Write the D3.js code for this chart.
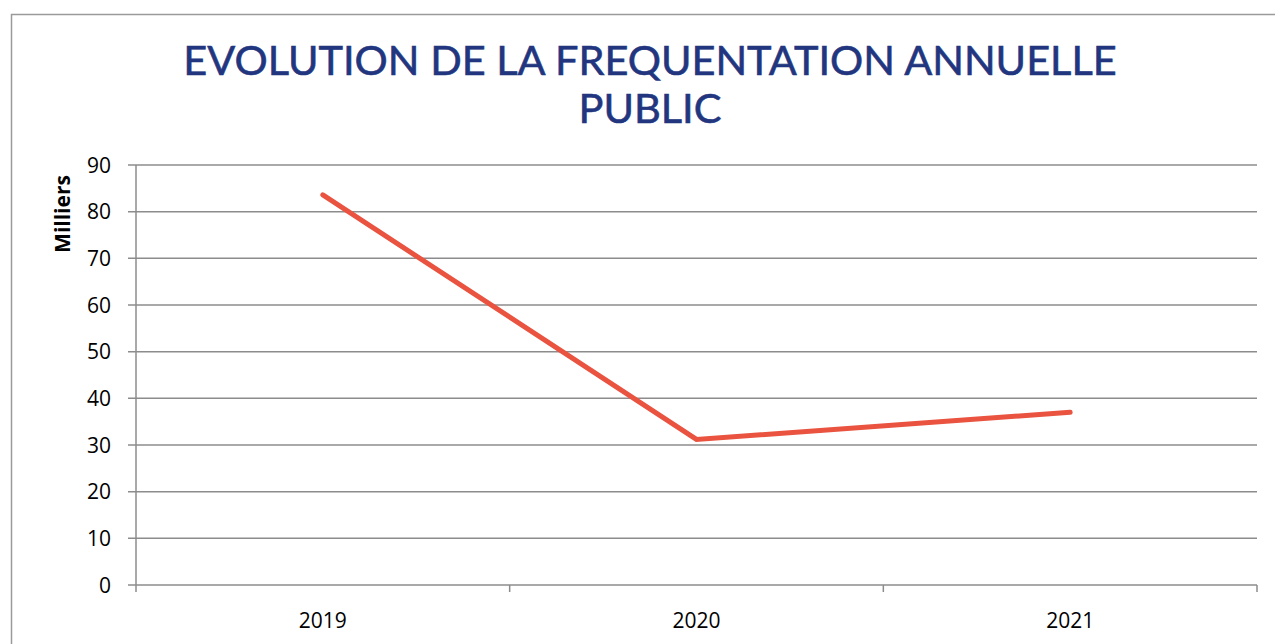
<!DOCTYPE html>
<html>
<head>
<meta charset="utf-8">
<script src="https://cdn.jsdelivr.net/npm/d3@7"></script>
<style>
  html, body { margin: 0; padding: 0; background: #fff; }
  svg { display: block; }
</style>
</head>
<body>
<svg id="chart" width="1275" height="644"></svg>
<script>
const categories = ["2019", "2020", "2021"];
const values = [83.6, 31.2, 37.0];
const yTicks = [0, 10, 20, 30, 40, 50, 60, 70, 80, 90];
const titleLines = ["EVOLUTION DE LA FREQUENTATION ANNUELLE", "PUBLIC"];
const yAxisLabel = "Milliers";

const svg = d3.select("#chart");
const W = 1275, H = 644;
const margin = { left: 136, right: 18, top: 165, bottom: 59 };
const plotW = W - margin.left - margin.right;
const plotH = H - margin.top - margin.bottom;

// outer frame
svg.append("rect")
  .attr("x", 11.5).attr("y", 14.5)
  .attr("width", 1300).attr("height", 700)
  .attr("fill", "none").attr("stroke", "#9a9a9a").attr("stroke-width", 1.5);

// title
svg.append("text")
  .attr("x", 650).attr("y", 75)
  .attr("text-anchor", "middle")
  .attr("font-family", "Lato, 'Open Sans', sans-serif")
  .attr("font-size", 41.5)
  .attr("fill", "#22357f")
  .attr("stroke", "#22357f")
  .attr("stroke-width", 0.6)
  .selectAll("tspan").data(titleLines).join("tspan")
  .attr("x", 650)
  .attr("dy", (d, i) => i === 0 ? 0 : 48)
  .text(d => d);

const g = svg.append("g").attr("transform", `translate(${margin.left},${margin.top})`);

const x = d3.scaleBand().domain(categories).range([0, plotW]).padding(0);
const y = d3.scaleLinear().domain([0, 90]).range([plotH, 0]);

// gridlines
g.append("g")
  .selectAll("line").data(yTicks).join("line")
  .attr("x1", -8).attr("x2", plotW)
  .attr("y1", d => y(d)).attr("y2", d => y(d))
  .attr("stroke", "#8c8c8c").attr("stroke-width", 1.5);

// y axis line
g.append("line")
  .attr("x1", 0).attr("x2", 0)
  .attr("y1", 0).attr("y2", plotH + 7)
  .attr("stroke", "#8c8c8c").attr("stroke-width", 1.5);

// x ticks (band boundaries)
const boundaries = categories.map(c => x(c) + x.bandwidth());
g.append("g")
  .selectAll("line").data(boundaries).join("line")
  .attr("x1", d => d).attr("x2", d => d)
  .attr("y1", plotH).attr("y2", plotH + 7)
  .attr("stroke", "#8c8c8c").attr("stroke-width", 1.5);

// y tick labels
g.append("g")
  .selectAll("text").data(yTicks).join("text")
  .attr("x", -25).attr("y", d => y(d))
  .attr("dy", "0.36em")
  .attr("text-anchor", "end")
  .attr("font-family", "'Open Sans', sans-serif")
  .attr("font-size", 21)
  .attr("fill", "#000")
  .text(d => d);

// x tick labels
g.append("g")
  .selectAll("text").data(categories).join("text")
  .attr("x", d => x(d) + x.bandwidth() / 2)
  .attr("y", plotH + 43)
  .attr("text-anchor", "middle")
  .attr("font-family", "'Open Sans', sans-serif")
  .attr("font-size", 21)
  .attr("fill", "#000")
  .text(d => d);

// y axis title
svg.append("text")
  .attr("transform", "translate(70,214) rotate(-90)")
  .attr("text-anchor", "middle")
  .attr("font-family", "'Open Sans', sans-serif")
  .attr("font-weight", "bold")
  .attr("font-size", 21)
  .attr("fill", "#000")
  .text(yAxisLabel);

// line
const line = d3.line()
  .x((d, i) => x(categories[i]) + x.bandwidth() / 2)
  .y(d => y(d));

g.append("path")
  .datum(values)
  .attr("d", line)
  .attr("fill", "none")
  .attr("stroke", "#e9533f")
  .attr("stroke-width", 5)
  .attr("stroke-linecap", "round")
  .attr("stroke-linejoin", "miter");
</script>
</body>
</html>
